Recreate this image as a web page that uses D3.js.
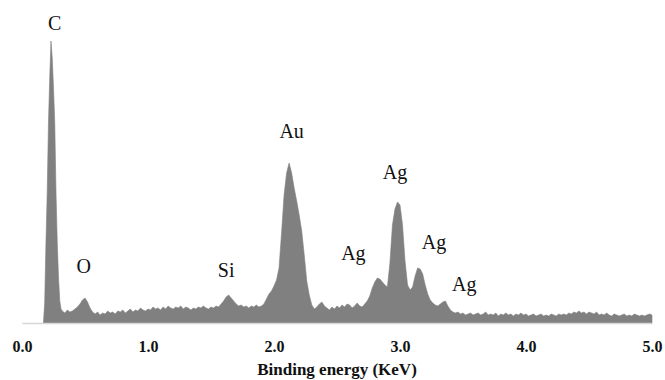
<!DOCTYPE html>
<html>
<head>
<meta charset="utf-8">
<script src="https://cdn.jsdelivr.net/npm/d3@7"></script>
<style>
  html, body { margin: 0; padding: 0; background: #fff; }
  svg { display: block; }
</style>
</head>
<body>
<svg id="chart" width="665" height="380"></svg>
<script>
// Energy (keV) sample positions
const energy = [
  0.17,0.18,0.19,0.20,0.21,0.22,0.23,0.24,0.25,0.26,0.27,0.28,0.29,0.30,0.31,
  0.32,0.34,0.36,0.38,0.40,0.42,0.44,0.46,0.48,0.50,0.52,0.54,0.56,0.58,0.60,
  0.62,0.64,0.66,0.68,0.70,0.72,0.74,0.76,0.78,0.80,0.82,0.84,0.86,0.88,0.90,
  0.92,0.94,0.96,0.98,1.00,1.02,1.04,1.06,1.08,1.10,1.12,1.14,1.16,1.18,1.20,
  1.22,1.24,1.26,1.28,1.30,1.32,1.34,1.36,1.38,1.40,1.42,1.44,1.46,1.48,1.50,
  1.52,1.54,1.56,1.58,1.60,1.62,1.64,1.66,1.68,1.70,1.72,1.74,1.76,1.78,1.80,
  1.82,1.84,1.86,1.88,1.90,1.92,1.94,1.96,1.98,2.00,2.02,2.04,2.06,2.08,2.10,
  2.12,2.14,2.16,2.18,2.20,2.22,2.24,2.26,2.28,2.30,2.32,2.34,2.36,2.38,2.40,
  2.42,2.44,2.46,2.48,2.50,2.52,2.54,2.56,2.58,2.60,2.62,2.64,2.66,2.68,2.70,
  2.72,2.74,2.76,2.78,2.80,2.82,2.84,2.86,2.88,2.90,2.92,2.94,2.96,2.98,3.00,
  3.02,3.04,3.06,3.08,3.10,3.12,3.14,3.16,3.18,3.20,3.22,3.24,3.26,3.28,3.30,
  3.32,3.34,3.36,3.38,3.40,3.42,3.44,3.46,3.48,3.50,3.52,3.54,3.56,3.58,3.60,
  3.62,3.64,3.66,3.68,3.70,3.72,3.74,3.76,3.78,3.80,3.82,3.84,3.86,3.88,3.90,
  3.92,3.94,3.96,3.98,4.00,4.02,4.04,4.06,4.08,4.10,4.12,4.14,4.16,4.18,4.20,
  4.22,4.24,4.26,4.28,4.30,4.32,4.34,4.36,4.38,4.40,4.42,4.44,4.46,4.48,4.50,
  4.52,4.54,4.56,4.58,4.60,4.62,4.64,4.66,4.68,4.70,4.72,4.74,4.76,4.78,4.80,
  4.82,4.84,4.86,4.88,4.90,4.92,4.94,4.96,4.98,5.00
];
// Intensity (arbitrary counts) at each energy
const counts = [
  0,20,80,130,200,245,282,265,235,200,130,80,45,22,14,
  12,10,13,11,12,14,16,19,23,25,21,15,11,9,11,
  8,10,9,12,10,11,9,12,11,13,10,12,14,11,13,
  12,15,13,12,14,13,16,14,15,13,16,14,17,15,14,
  16,15,17,14,16,15,13,15,14,16,15,17,15,14,16,
  15,17,16,19,22,26,28,25,22,19,17,18,16,17,15,
  17,16,18,16,17,19,24,29,32,37,43,55,90,128,150,
  160,150,135,122,108,92,68,42,28,18,14,16,19,21,17,
  15,13,16,14,17,15,18,16,19,18,15,17,20,17,16,
  19,22,27,35,41,45,44,41,38,36,60,98,114,121,118,
  98,62,38,33,36,47,55,54,49,38,29,23,20,18,17,
  19,21,22,17,13,11,10,11,9,10,8,9,10,8,9,
  10,8,9,11,8,9,8,10,7,9,8,10,8,9,7,
  9,8,10,8,9,7,8,9,7,8,9,7,8,7,9,
  8,7,9,8,9,8,10,9,11,10,12,10,11,9,11,
  10,9,11,8,9,8,10,8,7,9,8,7,8,9,7,
  8,7,9,8,7,8,7,8,9,8
];
// Peak annotations
const peakLabels = ["C", "O", "Si", "Au", "Ag", "Ag", "Ag", "Ag"];
const peakEnergy = [0.26, 0.49, 1.62, 2.14, 2.96, 2.63, 3.27, 3.51];
const peakLabelLevel = [293, 50, 46, 185, 144, 63, 74, 32];
// Axis ticks
const tickValues = [0, 1, 2, 3, 4, 5];
const xTitle = "Binding energy (KeV)";

const svg = d3.select("#chart");
const x = d3.scaleLinear().domain([0, 5]).range([22, 652]);
const y = d3.scaleLinear().domain([0, 300]).range([323, 23]);

const data = energy.map((e, i) => ({ e, c: counts[i] }));

const area = d3.area()
  .x(d => x(d.e))
  .y0(y(0))
  .y1(d => y(d.c));

svg.append("path")
  .datum(data)
  .attr("d", area)
  .attr("fill", "#808080")
  .attr("stroke", "#808080")
  .attr("stroke-width", 0.6);

const axis = d3.axisBottom(x)
  .tickValues(tickValues)
  .tickFormat(d3.format(".1f"))
  .tickSize(0)
  .tickSizeOuter(0)
  .tickPadding(18);

const gx = svg.append("g")
  .attr("transform", `translate(0,${y(0)})`)
  .call(axis);
gx.select(".domain").attr("stroke", "#d6d6d6").attr("stroke-width", 1.5);
gx.selectAll(".tick text")
  .attr("font-family", "'Liberation Serif', 'Times New Roman', serif")
  .attr("font-weight", "bold")
  .attr("font-size", 16)
  .attr("fill", "#111");

svg.append("text")
  .attr("x", 337)
  .attr("y", 375)
  .attr("text-anchor", "middle")
  .attr("font-family", "'Liberation Serif', 'Times New Roman', serif")
  .attr("font-weight", "bold")
  .attr("font-size", 17)
  .attr("fill", "#111")
  .text(xTitle);

svg.append("g")
  .selectAll("text")
  .data(peakLabels)
  .join("text")
  .attr("x", (d, i) => x(peakEnergy[i]))
  .attr("y", (d, i) => y(peakLabelLevel[i]))
  .attr("text-anchor", "middle")
  .attr("font-family", "'Liberation Serif', 'Times New Roman', serif")
  .attr("font-size", 20)
  .attr("fill", "#111")
  .text(d => d);
</script>
</body>
</html>
